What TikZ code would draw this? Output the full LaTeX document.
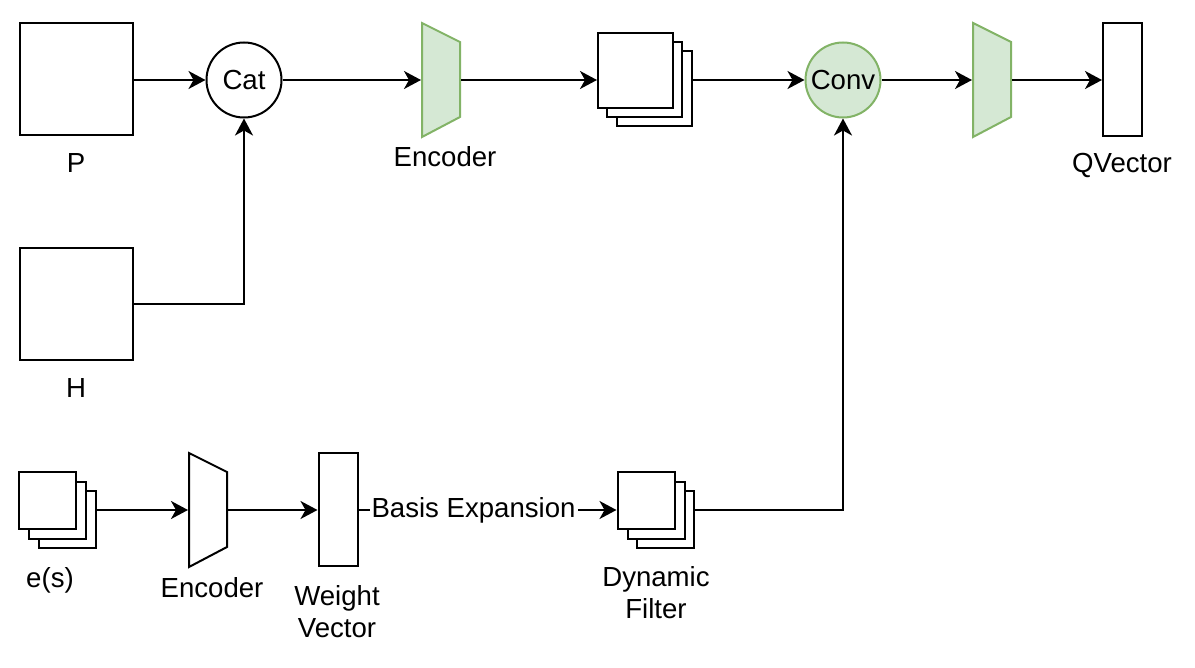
\documentclass[tikz,border=0pt]{standalone}
\usepackage{fontspec}
\setmainfont{Liberation Sans}
\usetikzlibrary{arrows.meta}
\definecolor{gfill}{HTML}{D5E8D4}
\definecolor{gline}{HTML}{82B366}
\begin{document}
\begin{tikzpicture}[x=0.5pt,y=-0.5pt,line width=1pt,
  every node/.style={font=\fontsize{13.8pt}{16pt}\selectfont},
  bigbox/.style={draw,fill=white,minimum width=56.5pt,minimum height=56pt,inner sep=0pt},
  sq/.style={draw,fill=white,minimum size=37.5pt,inner sep=0pt},
  smallsq/.style={draw,fill=white,minimum size=28.5pt,inner sep=0pt},
  vec/.style={draw,fill=white,minimum width=19.5pt,minimum height=56.5pt,inner sep=0pt},
  encnode/.style={minimum width=19pt,minimum height=57pt,inner sep=0pt},
  op/.style={circle,draw,minimum size=37.5pt,inner sep=0pt},
  lbl/.style={anchor=base,inner sep=0pt},
  arr/.style={-{Stealth[length=8.5pt,width=9pt,inset=2.5pt]}}]
\useasboundingbox (0,0) rectangle (1195,668);
% top row
\node[bigbox] (P) at (76.5,79) {};
\node[lbl] (Plbl) at (76,173) {P};
\node[bigbox] (H) at (76.5,304) {};
\node[lbl] (Hlbl) at (76,398) {H};
\node[op,fill=white] (cat) at (244,80) {Cat};
\node[encnode] (enc1) at (441,80) {};
\draw[gline,fill=gfill] ([shift={(-19,-57)}]enc1.center) -- ([shift={(19,-38)}]enc1.center) -- ([shift={(19,37)}]enc1.center) -- ([shift={(-19,57)}]enc1.center) -- cycle;
\node[lbl] (enc1lbl) at (445,167) {Encoder};
\node[sq] (s1c) at (654,88.5) {};
\node[sq] (s1b) at (644.5,79.5) {};
\node[sq] (s1a) at (635.5,70.5) {};
\node[op,draw=gline,fill=gfill] (conv) at (843,80) {Conv};
\node[encnode] (enc2) at (992,80) {};
\draw[gline,fill=gfill] ([shift={(-19,-57)}]enc2.center) -- ([shift={(19,-38)}]enc2.center) -- ([shift={(19,37)}]enc2.center) -- ([shift={(-19,57)}]enc2.center) -- cycle;
\node[vec] (qv) at (1122.5,79.5) {};
\node[lbl] (qvlbl) at (1122,173) {QVector};
% bottom row
\node[smallsq] (es3) at (67.5,519) {};
\node[smallsq] (es2) at (57.5,510) {};
\node[smallsq] (es1) at (47.5,500.5) {};
\node[lbl] (eslbl) at (50,587) {e(s)};
\node[encnode] (enc3) at (208,510) {};
\draw[fill=white] ([shift={(-19,-57)}]enc3.center) -- ([shift={(19,-38)}]enc3.center) -- ([shift={(19,37)}]enc3.center) -- ([shift={(-19,57)}]enc3.center) -- cycle;
\node[lbl] (enc3lbl) at (212,597) {Encoder};
\node[vec] (wv) at (338,509.5) {};
\node[align=center,inner sep=0pt] (wvlbl) at (337,612) {Weight\\Vector};
\node[smallsq] (df3) at (665,519) {};
\node[smallsq] (df2) at (656,510) {};
\node[smallsq] (df1) at (646,500.5) {};
\node[align=center,inner sep=0pt] (dflbl) at (656,593) {Dynamic\\Filter};
% connectors
\draw[arr] (P.east |- cat) -- (cat);
\draw[arr] (H.east) -| (cat.south);
\draw[arr] (cat) -- (enc1.west);
\draw[arr] (enc1.east) -- (s1a.west |- enc1.east);
\draw[arr] (s1c.east |- conv) -- (conv);
\draw[arr] (conv) -- (enc2.west);
\draw[arr] (enc2.east) -- (qv.west |- enc2.east);
\draw[arr] (enc3.west -| es3.east) -- (enc3.west);
\draw[arr] (enc3.east) -- (wv.west |- enc3.east);
\draw[arr] (wv.east |- enc3.east) -- node[pos=0.446,fill=white,inner sep=1pt] (basis) {Basis Expansion} (df1.west |- enc3.east);
\draw[arr] (df3.east |- enc3.east) -| (conv.south);
\end{tikzpicture}
\end{document}
